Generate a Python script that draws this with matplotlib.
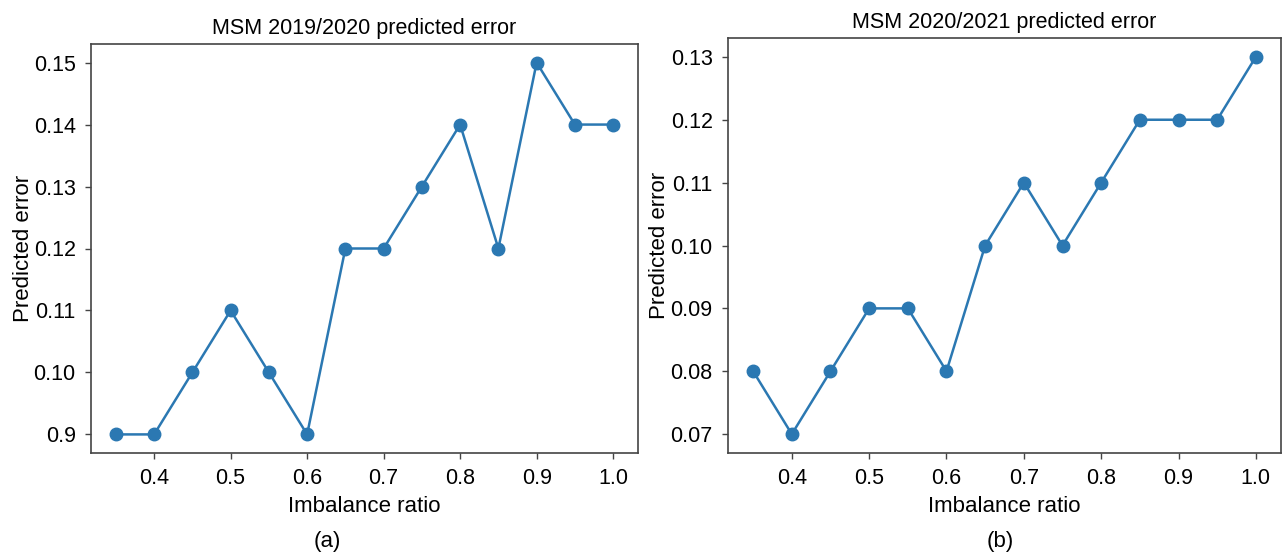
import matplotlib
matplotlib.use("Agg")
import matplotlib.pyplot as plt

plt.rcParams['font.family'] = ['Liberation Sans', 'DejaVu Sans']

imbalance_ratio = [0.35, 0.40, 0.45, 0.50, 0.55, 0.60, 0.65, 0.70, 0.75, 0.80, 0.85, 0.90, 0.95, 1.00]
error_2019_2020 = [0.09, 0.09, 0.10, 0.11, 0.10, 0.09, 0.12, 0.12, 0.13, 0.14, 0.12, 0.15, 0.14, 0.14]
error_2020_2021 = [0.08, 0.07, 0.08, 0.09, 0.09, 0.08, 0.10, 0.11, 0.10, 0.11, 0.12, 0.12, 0.12, 0.13]

x_ticks = [0.4, 0.5, 0.6, 0.7, 0.8, 0.9, 1.0]
x_tick_labels = ["0.4", "0.5", "0.6", "0.7", "0.8", "0.9", "1.0"]
y_ticks_a = [0.09, 0.10, 0.11, 0.12, 0.13, 0.14, 0.15]
y_tick_labels_a = ["0.9", "0.10", "0.11", "0.12", "0.13", "0.14", "0.15"]
y_ticks_b = [0.07, 0.08, 0.09, 0.10, 0.11, 0.12, 0.13]
y_tick_labels_b = ["0.07", "0.08", "0.09", "0.10", "0.11", "0.12", "0.13"]

titles = ["MSM 2019/2020 predicted error", "MSM 2020/2021 predicted error"]
panel_labels = ["(a)", "(b)"]

W, H = 1285, 553
fig = plt.figure(figsize=(W / 100, H / 100), dpi=100)
ax_a = fig.add_axes([91 / W, 1 - 453 / H, 547 / W, 409 / H])
ax_b = fig.add_axes([728 / W, 1 - 453 / H, 553 / W, 415 / H])

color = '#2b78b2'
for ax, y, yt, ytl, title, pl, plx in [
    (ax_a, error_2019_2020, y_ticks_a, y_tick_labels_a, titles[0], panel_labels[0], 327),
    (ax_b, error_2020_2021, y_ticks_b, y_tick_labels_b, titles[1], panel_labels[1], 1000),
]:
    ax.plot(imbalance_ratio, y, '-o', color=color, lw=1.8, ms=9)
    ax.set_xticks(x_ticks)
    ax.set_xticklabels(x_tick_labels)
    ax.set_yticks(yt)
    ax.set_yticklabels(ytl)
    ax.tick_params(labelsize=15.5, length=4, width=1, color='#444444', pad=7)
    for s in ax.spines.values():
        s.set_color('#444444')
        s.set_linewidth(1.2)
    ax.set_title(title, fontsize=15.5, pad=7)
    ax.set_xlabel("Imbalance ratio", fontsize=16, labelpad=5)
    ax.set_ylabel("Predicted error", fontsize=16, labelpad=0)
    fig.text(plx / W, 1 - 541 / H, pl, ha='center', va='center', fontsize=16)

fig.savefig("out.png", dpi=100)
